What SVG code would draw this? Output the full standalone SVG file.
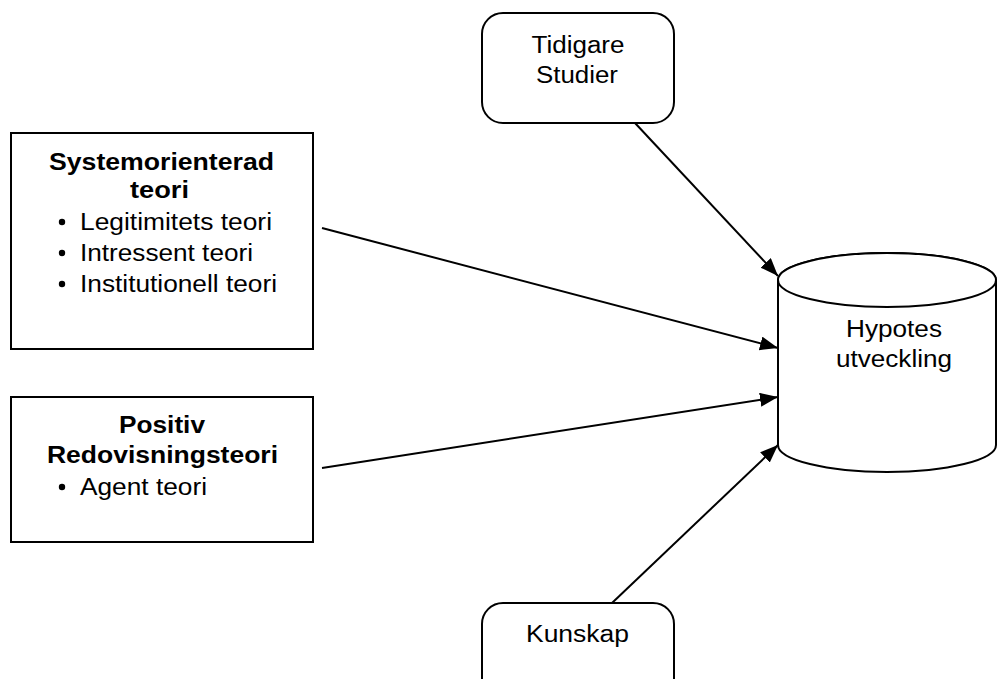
<svg xmlns="http://www.w3.org/2000/svg" width="998" height="679" viewBox="0 0 998 679">
<style>
.shape{fill:#fff;stroke:#000;stroke-width:2}
.conn{fill:none;stroke:#000;stroke-width:2}
text{font-family:"Liberation Sans",Arial,sans-serif;font-size:23.5px;fill:#000}
.b{font-weight:bold}
.c{text-anchor:middle}
</style>
<defs>
<marker id="arr" markerUnits="userSpaceOnUse" markerWidth="20" markerHeight="16" refX="18" refY="7" orient="auto">
<path d="M0,0 L18,7 L0,14 Z" fill="#000"/>
</marker>
</defs>
<g id="connectors">
<line class="conn" x1="635" y1="123" x2="778" y2="276" marker-end="url(#arr)"/>
<line class="conn" x1="322" y1="228" x2="778" y2="348" marker-end="url(#arr)"/>
<line class="conn" x1="322" y1="468" x2="778" y2="397" marker-end="url(#arr)"/>
<line class="conn" x1="612" y1="603" x2="778" y2="445" marker-end="url(#arr)"/>
</g>
<g id="systemorienterad">
<rect class="shape" x="11" y="133" width="302" height="216"/>
<text class="b c" x="161.5" y="170" textLength="225" lengthAdjust="spacingAndGlyphs">Systemorienterad</text>
<text class="b c" x="159.5" y="198" textLength="59" lengthAdjust="spacingAndGlyphs">teori</text>
<circle cx="62" cy="222" r="3.2"/>
<text x="80" y="230" textLength="192" lengthAdjust="spacingAndGlyphs">Legitimitets teori</text>
<circle cx="62" cy="253" r="3.2"/>
<text x="80" y="261" textLength="173" lengthAdjust="spacingAndGlyphs">Intressent teori</text>
<circle cx="62" cy="284" r="3.2"/>
<text x="80" y="292" textLength="197" lengthAdjust="spacingAndGlyphs">Institutionell teori</text>
</g>
<g id="positiv">
<rect class="shape" x="11" y="397" width="302" height="145"/>
<text class="b c" x="162" y="433" textLength="86" lengthAdjust="spacingAndGlyphs">Positiv</text>
<text class="b c" x="162.5" y="463" textLength="231" lengthAdjust="spacingAndGlyphs">Redovisningsteori</text>
<circle cx="62" cy="487" r="3.2"/>
<text x="80" y="495" textLength="127" lengthAdjust="spacingAndGlyphs">Agent teori</text>
</g>
<g id="tidigare">
<rect class="shape" x="482" y="13" width="192" height="110" rx="21" ry="21"/>
<text class="c" x="578" y="53" textLength="93" lengthAdjust="spacingAndGlyphs">Tidigare</text>
<text class="c" x="577" y="83" textLength="82" lengthAdjust="spacingAndGlyphs">Studier</text>
</g>
<g id="kunskap">
<rect class="shape" x="482" y="603" width="192" height="110" rx="21" ry="21"/>
<text class="c" x="577.5" y="642" textLength="103" lengthAdjust="spacingAndGlyphs">Kunskap</text>
</g>
<g id="hypotes">
<path class="shape" d="M778,280 L778,445 A109,27 0 0 0 996,445 L996,280 A109,27 0 0 0 778,280 Z"/>
<ellipse class="shape" cx="887" cy="280" rx="109" ry="27"/>
<text class="c" x="894" y="337" textLength="96" lengthAdjust="spacingAndGlyphs">Hypotes</text>
<text class="c" x="894" y="367" textLength="116" lengthAdjust="spacingAndGlyphs">utveckling</text>
</g>
</svg>
